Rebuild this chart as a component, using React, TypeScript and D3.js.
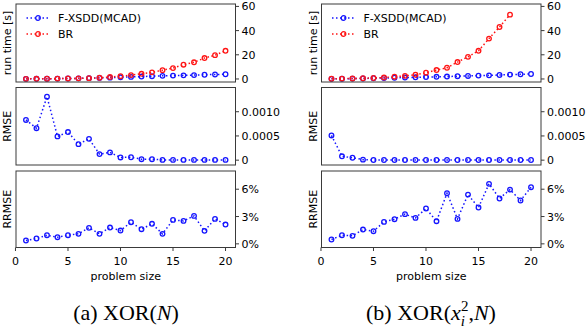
import React from 'react'
import * as d3 from 'd3'

// problem size on the x axis
const problemSize = [1, 2, 3, 4, 5, 6, 7, 8, 9, 10, 11, 12, 13, 14, 15, 16, 17, 18, 19, 20]

// (a) XOR(N)
const aTimeMcad = [0.1, 0.15, 0.2, 0.3, 0.4, 0.5, 0.7, 0.9, 1.1, 1.4, 1.7, 2.0, 2.3, 2.6, 2.8, 3.0, 3.2, 3.5, 3.7, 3.9]
const aTimeBr = [0.1, 0.15, 0.2, 0.3, 0.4, 0.5, 0.7, 1.0, 1.6, 2.3, 3.2, 4.3, 5.5, 7.3, 9.0, 11.8, 13.8, 17.3, 19.7, 23.3]
const aRmse = [0.00083, 0.00066, 0.00131, 0.00049, 0.00058, 0.00033, 0.00044, 0.000125, 0.00016, 0.000056,
  0.00006, 0.00002, 0.00002, 0.000005, 0.000005, 0.000005, 0.000005, 0.000005, 0.000005, 0.000005]
const aRrmse = [0.37, 0.59, 0.95, 0.73, 0.95, 1.10, 1.76, 1.10, 1.79, 1.46, 2.38, 1.61, 2.20, 1.10, 2.63, 2.52, 3.07, 1.43, 2.74, 2.12]

// (b) XOR(x_i^2, N)
const bTimeMcad = [0.1, 0.2, 0.3, 0.4, 0.6, 0.8, 1.0, 1.2, 1.4, 1.6, 1.8, 2.0, 2.3, 2.5, 2.8, 3.0, 3.3, 3.6, 3.9, 4.1]
const bTimeBr = [0.2, 0.3, 0.4, 0.6, 0.8, 1.2, 1.9, 2.6, 3.5, 5.2, 7.4, 9.3, 14, 18.3, 23.3, 33.4, 43, 53.2]
const bRmse = [0.00051, 0.00008, 0.00005, 0.00001, 0.000003, 0.000003, 0.000003, 0.000003, 0.000003, 0.000003,
  0.000003, 0.000003, 0.000003, 0.000003, 0.000003, 0.000003, 0.000003, 0.000003, 0.000003, 0.000003]
const bRrmse = [0.48, 0.95, 0.88, 1.57, 1.39, 2.41, 2.71, 3.26, 2.85, 3.88, 2.49, 5.56, 2.74, 5.41, 3.99, 6.59, 4.98, 5.96, 4.76, 6.22]

const timeTicks = [0, 20, 40, 60]
const rmseTicks = [0, 0.0005, 0.001]
const rrmseTicks = [0, 3, 6]
const xTicks = [0, 5, 10, 15, 20]

const BLUE = '#1414ff'
const RED = '#ff1414'
const FONT = 'DejaVu Sans'
const AXIS = '#3a3a3a'

function Series({ x, y, ys, color }) {
  const line = d3.line<number>()
    .x((d, i) => x(problemSize[i]))
    .y((d) => y(d))
  return (
    <g>
      <path d={line(ys) || ''} fill="none" stroke={color} strokeWidth={1.5} strokeDasharray="1.5 2.5" />
      {ys.map((v, i) => (
        <circle key={i} cx={x(problemSize[i])} cy={y(v)} r={2.3} fill="none" stroke={color} strokeWidth={1.3} />
      ))}
    </g>
  )
}

function Panel({ x, top, bottom, domain, ticks, fmt, label, children, showX }) {
  const [x0, x1] = x.range()
  const y = d3.scaleLinear().domain(domain).range([bottom, top])
  return (
    <g>
      {children(y)}
      <rect x={x0} y={top} width={x1 - x0} height={bottom - top} fill="none" stroke={AXIS} strokeWidth={1} />
      {ticks.map((t) => (
        <g key={t} transform={`translate(${x1},${y(t)})`}>
          <line x1={0} x2={3.5} stroke={AXIS} />
          <text x={6} dy="0.36em" fontSize={11} fontFamily={FONT}>{fmt(t)}</text>
        </g>
      ))}
      <text transform={`translate(${x0 - 5},${(top + bottom) / 2}) rotate(-90)`} textAnchor="middle"
        fontSize={11} fontFamily={FONT}>{label}</text>
      {showX && xTicks.map((t) => (
        <g key={t} transform={`translate(${x(t)},${bottom})`}>
          <line y1={0} y2={3.5} stroke={AXIS} />
          <text y={17} textAnchor="middle" fontSize={11} fontFamily={FONT}>{t}</text>
        </g>
      ))}
      {showX && (
        <text x={(x0 + x1) / 2} y={bottom + 32} textAnchor="middle" fontSize={11} fontFamily={FONT}>problem size</text>
      )}
    </g>
  )
}

function Legend({ x0 }) {
  const items = [['F-XSDD(MCAD)', BLUE], ['BR', RED]]
  return (
    <g>
      {items.map(([name, color], i) => (
        <g key={name} transform={`translate(${x0 + 10.5},${18 + i * 16})`}>
          <line x1={0} x2={23} stroke={color} strokeWidth={1.5} strokeDasharray="1.5 2.5" />
          <circle cx={11.5} cy={0} r={2.3} fill="none" stroke={color} strokeWidth={1.3} />
          <text x={31.5} dy="0.36em" fontSize={11} fontFamily={FONT}>{name}</text>
        </g>
      ))}
    </g>
  )
}

function Figure({ left, timeMcad, timeBr, rmse, rrmse }) {
  const x = d3.scaleLinear().domain([0.05, 20.95]).range([left, left + 219.5])
  return (
    <g>
      <Panel x={x} top={4} bottom={82} domain={[-2.5, 62]} ticks={timeTicks} fmt={(d) => `${d}`} label="run time [s]">
        {(y) => (
          <g>
            <Series x={x} y={y} ys={timeMcad} color={BLUE} />
            <Series x={x} y={y} ys={timeBr} color={RED} />
          </g>
        )}
      </Panel>
      <Legend x0={left} />
      <Panel x={x} top={87.5} bottom={165} domain={[-0.0001, 0.0015]} ticks={rmseTicks}
        fmt={(d) => (d === 0 ? '0' : d.toFixed(4))} label="RMSE">
        {(y) => <Series x={x} y={y} ys={rmse} color={BLUE} />}
      </Panel>
      <Panel x={x} top={171} bottom={247.5} domain={[-0.4, 8]} ticks={rrmseTicks} fmt={(d) => `${d}%`}
        label="RRMSE" showX>
        {(y) => <Series x={x} y={y} ys={rrmse} color={BLUE} />}
      </Panel>
    </g>
  )
}

export default function App() {
  const cap = { fontFamily: 'Liberation Serif', fontSize: 22 }
  return (
    <svg width={588} height={334} style={{ position: 'absolute', left: 0, top: 0, background: '#fff' }}>
      <Figure left={16} timeMcad={aTimeMcad} timeBr={aTimeBr} rmse={aRmse} rrmse={aRrmse} />
      <Figure left={321.5} timeMcad={bTimeMcad} timeBr={bTimeBr} rmse={bRmse} rrmse={bRrmse} />
      <text x={126} y={320} textAnchor="middle" style={cap}>
        (a) XOR(<tspan fontStyle="italic">N</tspan>)
      </text>
      <text x={431} y={320} textAnchor="middle" style={cap}>
        (b) XOR(<tspan fontStyle="italic">x</tspan>
        <tspan fontSize={15} dy={6} fontStyle="italic">i</tspan>
        <tspan fontSize={15} dx={-4} dy={-15}>2</tspan>
        <tspan dy={9}>,</tspan><tspan fontStyle="italic">N</tspan>)
      </text>
    </svg>
  )
}
